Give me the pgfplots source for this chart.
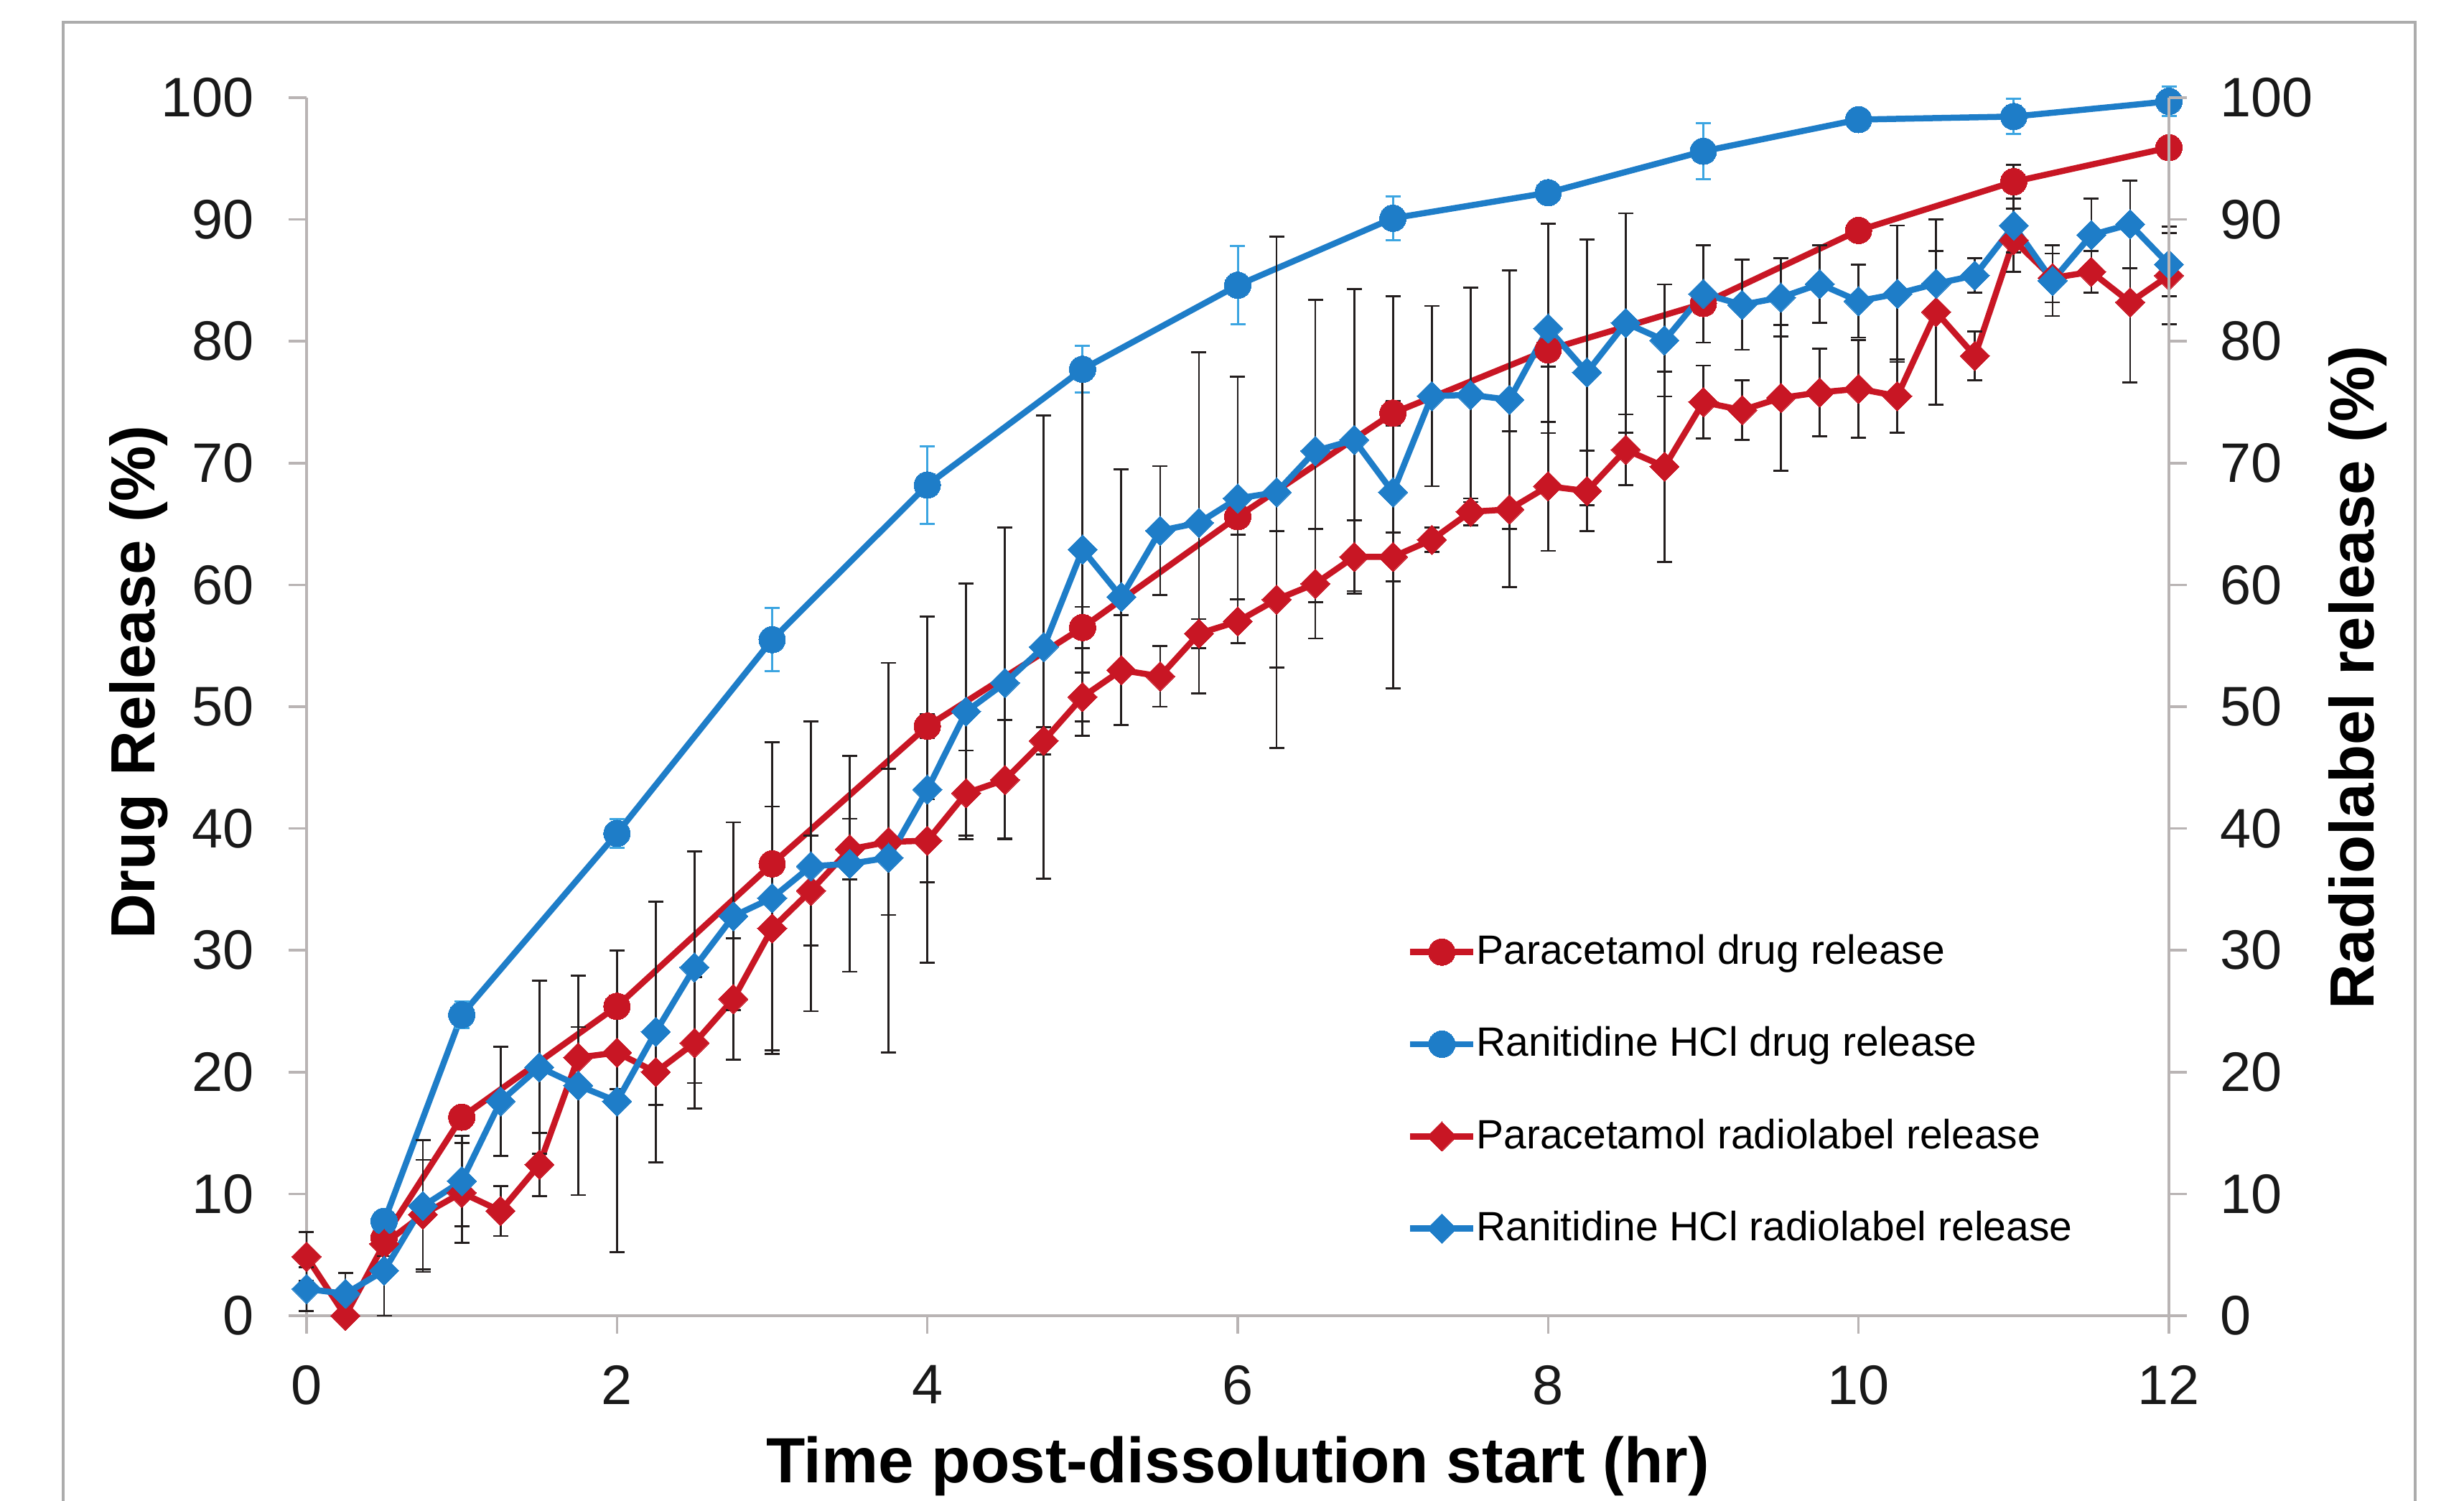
\documentclass[border=0pt]{standalone}
\usepackage{fontspec}
\setmainfont{Liberation Sans}
\usepackage{pgfplots}
\pgfplotsset{compat=1.18}
\usepackage{pgfplotstable}

\definecolor{pred}{RGB}{200,22,36}
\definecolor{rblue}{RGB}{30,125,200}
\definecolor{lblue}{RGB}{60,165,225}
\definecolor{axgray}{RGB}{185,180,180}
\definecolor{ebar}{RGB}{35,30,30}

% Paracetamol drug release
\pgfplotstableread{
x y e
0.5 6.4 0.8
1 16.3 0.8
2 25.4 0.6
3 37.1 0.8
4 48.4 1.0
5 56.5 1.7
6 65.6 1.5
7 74.1 1.0
8 79.3 1.4
9 83.1 0.8
10 89.1 0.8
11 93.1 1.4
12 95.9 0.8
}\pdrug

% Ranitidine HCl drug release
\pgfplotstableread{
x y e
0.5 7.75 0.9
1 24.7 1.1
2 39.6 1.2
3 55.5 2.6
4 68.2 3.2
5 77.7 1.9
6 84.6 3.2
7 90.1 1.8
8 92.2 0.5
9 95.6 2.3
10 98.2 0.5
11 98.45 1.45
12 99.7 1.2
}\rdrug

% Paracetamol radiolabel release
\pgfplotstableread{
x y e
0 4.85 2.0
0.25 0 0.5
0.5 5.9 1.0
0.75 8.3 4.5
1 10.1 4.1
1.25 8.6 2.05
1.5 12.4 2.6
1.75 21.2 2.5
2 21.6 3.0
2.25 20.0 2.7
2.5 22.4 5.4
2.75 26.0 5.0
3 31.8 10.0
3.25 34.9 4.5
3.5 38.3 2.5
3.75 38.9 6.0
4 39.0 3.4
4.25 42.9 3.5
4.5 44.0 4.9
4.75 47.2 1.1
5 50.8 2.0
5.25 53.0 4.5
5.5 52.5 2.5
5.75 56.0 1.2
6 57.0 1.8
6.25 58.8 5.6
6.5 60.1 4.5
6.75 62.3 3.0
7 62.3 2.0
7.25 63.7 1.0
7.5 66.0 1.1
7.75 66.2 6.4
8 68.1 5.3
8.25 67.7 3.3
8.5 71.1 2.9
8.75 69.7 7.8
9 75.0 3.0
9.25 74.35 2.45
9.5 75.35 6.0
9.75 75.8 3.6
10 76.1 4.0
10.25 75.5 3.0
10.5 82.4 7.6
10.75 78.8 2.0
11 88.3 2.6
11.25 85.2 2.0
11.5 85.7 1.7
11.75 83.2 6.6
12 85.4 4.0
}\prad

% Ranitidine HCl radiolabel release
\pgfplotstableread{
x y e
0 2.2 1.8
0.25 1.8 1.7
0.5 3.7 3.7
0.75 9.0 5.4
1 11.05 3.7
1.25 17.6 4.5
1.5 20.4 7.1
1.75 18.9 9.0
2 17.6 12.4
2.25 23.3 10.7
2.5 28.6 9.5
2.75 32.8 7.7
3 34.3 12.8
3.25 36.9 11.9
3.5 37.1 8.85
3.75 37.6 16.0
4 43.2 14.2
4.25 49.6 10.5
4.5 51.95 12.75
4.75 54.9 19.0
5 62.9 15.3
5.25 59.0 10.5
5.5 64.45 5.3
5.75 65.1 14.0
6 67.1 10.0
6.25 67.6 21.0
6.5 71.0 12.4
6.75 71.9 12.4
7 67.6 16.1
7.25 75.5 7.4
7.5 75.6 8.8
7.75 75.2 10.6
8 81.06 8.6
8.25 77.45 10.9
8.5 81.5 9.0
8.75 80.07 4.6
9 83.9 4.0
9.25 83.0 3.7
9.5 83.6 3.2
9.75 84.7 3.2
10 83.3 3.0
10.25 83.9 5.6
10.5 84.73 2.7
10.75 85.4 1.4
11 89.5 2.2
11.25 84.97 2.9
11.5 88.73 3.0
11.75 89.6 3.6
12 86.3 2.6
}\rrad

\begin{document}
\begin{tikzpicture}
\useasboundingbox (-85.4pt,-51.6pt) rectangle (601pt,366.4pt);
\draw[gray!65, line width=0.9pt] (-67.8pt,-80pt) -- (-67.8pt,360.2pt) -- (587.4pt,360.2pt) -- (587.4pt,-80pt);
\begin{axis}[
  at={(0,0)}, anchor=south west,
  scale only axis, width=518.8pt, height=339.2pt,
  xmin=0, xmax=12, ymin=0, ymax=100,
  clip=false,
  axis x line*=bottom, axis y line*=left,
  axis line style={axgray, line width=0.7pt, -},
  xtick={0,2,...,12}, ytick={0,10,...,100},
  tick align=outside, major tick length=5pt,
  tick style={axgray, line width=0.7pt},
  /pgf/number format/assume math mode=true,
  tick label style={font=\fontsize{15.5}{18}\selectfont, text=black!90},
  xticklabel style={inner sep=0pt, anchor=north, yshift=-8.6pt},
  yticklabel style={inner sep=0pt, anchor=east, xshift=-9.5pt},
  xlabel={Time post-dissolution start (hr)},
  xlabel style={font=\fontsize{17.8}{20}\selectfont\bfseries, at={([yshift=-46.4pt]axis description cs:0.5,0)}, anchor=base},
  ylabel={Drug Release (\%)},
  ylabel style={font=\fontsize{17.4}{20}\selectfont\bfseries, at={([xshift=-46.8pt]axis description cs:0,0.52)}, anchor=center},
  every axis plot/.append style={line width=1.7pt, line join=round},
  error bars/error bar style={ebar, line width=0.55pt},
  error bars/error mark options={ebar, line width=0.55pt, mark size=2.1pt, rotate=90},
  legend cell align=left,
  legend style={draw=none, fill=none, at={(0.5906,0.3135)}, anchor=north west,
    font=\fontsize{11.4}{13}\selectfont, row sep=15.9pt, inner sep=0pt,
    nodes={inner sep=0pt}},
  legend image code/.code={\draw[mark repeat=2,mark phase=2,#1] plot coordinates {(0pt,0pt)(8.8pt,0pt)(17.6pt,0pt)};},
]
\addplot[color=pred, mark=*, mark size=3.7pt, mark options={solid, fill=pred, draw=pred, line width=0pt},
  error bars/.cd, y dir=both, y explicit] table[x=x, y=y, y error=e] {\pdrug};
\addlegendentry{Paracetamol drug release}
\addplot[color=rblue, mark=*, mark size=3.7pt, mark options={solid, fill=rblue, draw=rblue, line width=0pt},
  error bars/.cd, y dir=both, y explicit,
  error bar style={lblue, line width=0.6pt},
  error mark options={lblue, line width=0.6pt, mark size=2.1pt, rotate=90}] table[x=x, y=y, y error=e] {\rdrug};
\addlegendentry{Ranitidine HCl drug release}
\addplot[color=pred, mark=square*, mark size=2.9pt, mark options={solid, rotate=45, fill=pred, draw=pred, line width=0pt},
  error bars/.cd, y dir=both, y explicit] table[x=x, y=y, y error=e] {\prad};
\addlegendentry{Paracetamol radiolabel release}
\addplot[color=rblue, mark=square*, mark size=2.9pt, mark options={solid, rotate=45, fill=rblue, draw=rblue, line width=0pt},
  error bars/.cd, y dir=both, y explicit] table[x=x, y=y, y error=e] {\rrad};
\addlegendentry{Ranitidine HCl radiolabel release}
\end{axis}
\begin{axis}[
  at={(0,0)}, anchor=south west,
  scale only axis, width=518.8pt, height=339.2pt,
  xmin=0, xmax=12, ymin=0, ymax=100,
  hide x axis,
  axis y line*=right,
  axis line style={axgray, line width=0.7pt, -},
  ytick={0,10,...,100},
  tick align=outside, major tick length=5pt,
  tick style={axgray, line width=0.7pt},
  /pgf/number format/assume math mode=true,
  tick label style={font=\fontsize{15.5}{18}\selectfont, text=black!90},
  yticklabel style={inner sep=0pt, anchor=west, xshift=9pt},
  ylabel={Radiolabel release (\%)},
  ylabel style={font=\fontsize{17.4}{20}\selectfont\bfseries, at={([xshift=52.6pt]axis description cs:1,0.524)}, anchor=center},
]
\end{axis}
\end{tikzpicture}
\end{document}
